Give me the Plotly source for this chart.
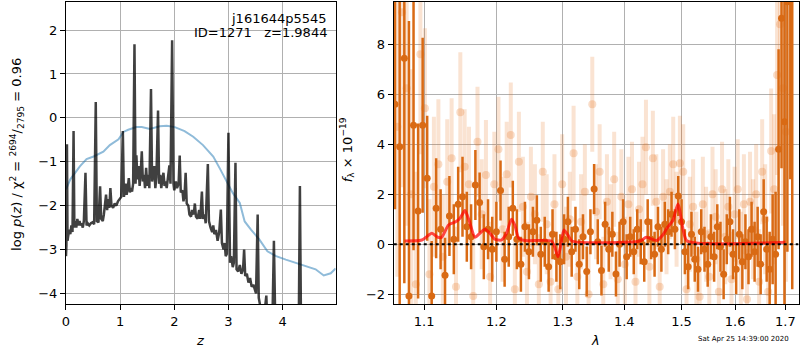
import plotly.graph_objects as go

# ---------------- redshift probability panel ----------------
pz_z = [0.000, 0.008, 0.018, 0.028, 0.04, 0.06, 0.08, 0.10, 0.12, 0.14, 0.155, 0.17, 0.19, 0.21,
        0.23, 0.25, 0.27, 0.29, 0.31, 0.33, 0.36, 0.38, 0.40, 0.43, 0.46, 0.49, 0.52, 0.55, 0.57,
        0.60, 0.63, 0.65, 0.68, 0.70, 0.72, 0.74, 0.76, 0.78, 0.80, 0.82, 0.84, 0.87, 0.90, 0.93,
        0.96, 0.99, 1.02, 1.05, 1.07, 1.10, 1.12, 1.14, 1.16, 1.18, 1.20, 1.22, 1.24, 1.265, 1.285,
        1.30, 1.32, 1.34, 1.36, 1.38, 1.40, 1.42, 1.44, 1.46, 1.48, 1.50, 1.52, 1.54, 1.57, 1.59,
        1.61, 1.63, 1.65, 1.67, 1.70, 1.72, 1.74, 1.76, 1.78, 1.80, 1.82, 1.84, 1.86, 1.88, 1.91,
        1.93, 1.96, 1.985, 2.00, 2.03, 2.05, 2.08, 2.10, 2.12, 2.15, 2.17, 2.19, 2.21, 2.23, 2.26,
        2.28, 2.31, 2.33, 2.36, 2.38, 2.40, 2.43, 2.46, 2.48, 2.51, 2.53, 2.56, 2.58, 2.62, 2.64,
        2.67, 2.70, 2.72, 2.74, 2.77, 2.80, 2.83, 2.86, 2.88, 2.91, 2.93, 2.95, 2.97, 3.00, 3.03,
        3.05, 3.08, 3.10, 3.13, 3.15, 3.18, 3.21, 3.24, 3.27, 3.29, 3.31, 3.34, 3.37, 3.40, 3.43,
        3.46, 3.49, 3.51, 3.54, 3.56, 3.59, 3.63, 3.67, 3.70, 3.72, 3.77, 3.81, 3.84, 3.87, 3.92,
        4.00, 4.10, 4.20, 4.29, 4.32, 4.35, 4.50, 4.70, 4.98]
pz_logp = [-3.15, -2.90, -0.60, -2.80, -2.70, -2.55, -2.65, -2.45, -2.60, -0.30, -2.50, -2.35, -2.50, -2.30,
           -2.45, -2.35, -2.45, -2.40, -2.50, -2.35, -1.25, -2.45, -2.40, -2.45, -2.40, -2.38, -2.42, 0.36, -2.35,
           -2.38, -1.56, -2.30, -2.35, -2.20, -2.00, -1.75, -2.10, -1.85, -2.05, -1.60, -2.00, -2.05, -1.95, -2.00,
           -1.90, -1.85, -1.80, -0.30, -1.80, -1.50, -1.75, -1.60, -1.37, -1.70, -1.60, -1.68, -1.50, 1.68, -1.50,
           -0.85, -1.40, -1.10, -1.55, -1.25, -0.76, -1.45, -1.30, -1.60, -1.14, -1.55, -1.30, -1.60, 0.66, -1.45,
           -1.30, -1.10, -1.60, -1.35, 0.17, -1.50, -1.30, -1.60, -1.40, -1.25, -1.55, -1.45, -1.60, -1.40, -1.08,
           -1.50, 1.77, -1.50, -1.65, -1.45, -1.60, -1.50, -0.86, -1.70, -1.65, -1.90, -1.75, -1.25, -1.95, -2.00,
           -2.20, -2.25, -2.10, -2.20, -1.95, -2.25, -2.30, -2.10, -2.30, -1.68, -2.30, -2.20, -2.40, -1.05, -2.35,
           -2.50, -2.60, -2.45, -2.65, -2.55, -2.80, -2.60, -2.09, -2.85, -3.00, -2.85, -3.15, -3.10, -0.34, -3.30,
           -3.15, -3.40, -3.30, -1.02, -3.45, -3.50, -3.35, -3.55, -3.45, -3.00, -3.60, -3.55, -3.75, -3.65, -3.85,
           -3.80, -3.95, -4.00, -2.20, -4.10, -4.30, -4.60, -4.40, -4.05, -4.70, -4.90, -4.80, -2.80, -5.00, -5.30,
           -5.50, -5.80, -6.00, -6.10, -1.55, -6.20, -6.50, -6.90, -7.30]

prior_z = [0.00, 0.08, 0.26, 0.38, 0.51, 0.69, 0.81, 0.97, 1.06, 1.15, 1.30, 1.40, 1.55, 1.73, 1.86,
           2.01, 2.19, 2.35, 2.53, 2.72, 2.84, 2.97, 3.08, 3.21, 3.30, 3.42, 3.57, 3.72, 3.88, 4.06,
           4.24, 4.43, 4.61, 4.76, 4.89, 4.98]
prior_logp = [-1.63, -1.40, -1.10, -0.94, -0.88, -0.77, -0.62, -0.49, -0.32, -0.27, -0.21, -0.21, -0.25,
              -0.19, -0.18, -0.21, -0.30, -0.43, -0.62, -0.88, -1.15, -1.45, -1.71, -1.94, -2.36, -2.55,
              -2.77, -3.04, -3.15, -3.23, -3.30, -3.38, -3.45, -3.59, -3.54, -3.43]

z_ticks = [0, 1, 2, 3, 4]
logp_ticks = [-4, -3, -2, -1, 0, 1, 2]

# ---------------- spectrum panel ----------------
wave_a = [1.062, 1.068, 1.074, 1.080, 1.086, 1.092, 1.098, 1.104, 1.110, 1.116, 1.122, 1.128, 1.134,
          1.140, 1.146, 1.152, 1.158, 1.164, 1.170, 1.176, 1.182, 1.188, 1.194, 1.200, 1.206, 1.212,
          1.218, 1.224, 1.230, 1.236, 1.242, 1.248, 1.254, 1.260, 1.266, 1.272, 1.278, 1.284, 1.290,
          1.296, 1.302, 1.308, 1.314, 1.320, 1.326, 1.332, 1.338, 1.344, 1.350, 1.356, 1.362, 1.368,
          1.374, 1.380, 1.386, 1.392, 1.398, 1.404, 1.410, 1.416, 1.422, 1.428, 1.434, 1.440, 1.446,
          1.452, 1.458, 1.464, 1.470, 1.476, 1.482, 1.488, 1.494, 1.500, 1.506, 1.512, 1.518, 1.524,
          1.530, 1.536, 1.542, 1.548, 1.554, 1.560, 1.566, 1.572, 1.578, 1.584, 1.590, 1.596, 1.602,
          1.608, 1.614, 1.620, 1.626, 1.632, 1.638, 1.644, 1.650, 1.656, 1.662, 1.668, 1.674, 1.680,
          1.686, 1.692, 1.698, 1.704, 1.710, 1.714]
flux_a = [5.6, 3.9, 7.44, -2.07, 4.76, 1.33, 4.76, 2.64, -2.07, 1.44, 0.6, -1.24, 1.13,
          0.2, 1.6, 1.9, 0.7, 0.3, 2.37, 1.67, -0.1, 0.6, -0.2, 0.5, 2.15, -0.6,
          0.3, 1.44, 0.2, -0.8, 0.7, -0.3, 0.5, 0.96, -0.4, 0.1, -0.9, 0.4, -0.5,
          -0.7, 0.2, 0.9, -0.3, 0.6, -0.8, 0.3, -1.09, 0.5, 2.21, 0.1, -1.05, 0.8,
          -0.2, 0.4, -1.19, 0.0, 0.9, -0.5, 0.3, -0.3, 0.6, 0.1, -0.7, 0.9, 0.2,
          -0.4, 0.7, -0.2, 0.8, 0.5, 1.2, 0.6, 1.93, 0.9, -0.3, -0.9, 0.4, -0.6,
          -1.0, 0.5, -0.2, -0.8, 0.3, -0.5, 0.7, -0.1, -1.2, 0.2, 0.9, -0.4, -1.0,
          0.4, -0.7, 0.1, -0.5, 0.6, -0.3, 0.3, -0.8, 1.3, -0.2, -1.0, 0.2, -0.4,
          3.8, 9.04, 4.9, 9.7, 15.0, 18.0]
err_a = [4.2, 7.5, 9.0, 11.0, 5.0, 3.5, 3.5, 2.5, 2.2, 2.0, 1.6, 1.5, 1.6,
         1.4, 1.5, 1.6, 1.4, 1.3, 1.4, 1.2, 1.3, 1.2, 1.3, 1.2, 1.2, 1.1,
         1.2, 1.1, 1.2, 1.1, 1.0, 1.1, 1.0, 1.0, 1.1, 1.0, 1.0, 1.0, 1.0,
         1.1, 1.0, 1.0, 1.0, 0.9, 1.0, 0.9, 1.0, 0.9, 1.0, 0.9, 1.0, 0.9,
         0.9, 0.9, 0.9, 0.9, 0.9, 0.9, 0.8, 0.9, 0.8, 0.9, 0.8, 0.9, 0.8,
         0.9, 0.8, 0.9, 0.9, 0.9, 0.9, 0.8, 0.8, 0.9, 0.9, 0.9, 0.9, 0.9,
         0.9, 0.9, 0.9, 0.9, 0.9, 1.0, 0.9, 1.0, 1.0, 1.0, 1.0, 1.0, 1.0,
         1.0, 1.1, 1.1, 1.1, 1.1, 1.2, 1.2, 1.2, 1.3, 1.3, 1.5, 1.8, 2.5,
         4.0, 6.0, 8.0, 10.0, 12.4, 19.8]

wave_b = [1.065, 1.071, 1.077, 1.083, 1.089, 1.095, 1.101, 1.107, 1.113, 1.119, 1.125, 1.131, 1.137,
          1.143, 1.149, 1.155, 1.161, 1.167, 1.173, 1.179, 1.185, 1.191, 1.197, 1.203, 1.209, 1.215,
          1.221, 1.227, 1.233, 1.239, 1.245, 1.251, 1.257, 1.263, 1.269, 1.275, 1.281, 1.287, 1.293,
          1.299, 1.305, 1.311, 1.317, 1.323, 1.329, 1.335, 1.341, 1.347, 1.353, 1.359, 1.365, 1.371,
          1.377, 1.383, 1.389, 1.395, 1.401, 1.407, 1.413, 1.419, 1.425, 1.431, 1.437, 1.443, 1.449,
          1.455, 1.461, 1.467, 1.473, 1.479, 1.485, 1.491, 1.497, 1.503, 1.509, 1.515, 1.521, 1.527,
          1.533, 1.539, 1.545, 1.551, 1.557, 1.563, 1.569, 1.575, 1.581, 1.587, 1.593, 1.599, 1.605,
          1.611, 1.617, 1.623, 1.629, 1.635, 1.641, 1.647, 1.653, 1.659, 1.665, 1.671, 1.677, 1.683,
          1.689, 1.695, 1.701]
flux_b = [4.7, 9.28, 6.24, 2.0, -1.6, 7.6, 5.44, -1.2, 2.3, 3.2, -0.5, 2.5, 3.44,
          -1.7, 5.28, 3.1, 2.4, -2.07, 4.1, 1.2, 2.77, -1.3, 2.4, 3.8, 0.6, 2.8,
          4.37, -1.8, 3.3, 1.5, -1.1, 1.9, 1.2, -1.6, 2.9, 0.8, -1.5, 1.6, -1.8,
          2.4, -0.5, 1.0, 3.64, -1.3, 0.9, 2.1, -2.0, 5.6, 1.3, 2.9, -1.6, 1.7,
          0.5, 2.6, -1.4, 1.9, -0.8, 1.6, 2.2, -1.5, 1.4, 2.4, 3.88, -0.9, 3.44,
          1.7, -1.7, 1.9, 0.7, 2.1, 3.2, 1.0, 3.24, 2.9, -1.8, 0.8, 1.5, -0.6,
          -2.1, 1.6, 0.4, -1.3, 2.0, 1.1, -1.9, 2.2, 0.3, 1.5, -1.4, 1.2, 2.2,
          -0.7, 1.6, -2.2, 1.7, 0.6, 2.0, -1.5, 2.9, 1.0, -1.9, 3.73, 2.2, 6.77,
          8.8, 6.24, 4.5]
err_b = [6.0, 7.0, 5.5, 5.0, 4.5, 4.0, 3.2, 3.0, 2.8, 2.6, 2.5, 2.5, 2.4,
         2.4, 2.4, 2.3, 2.3, 2.3, 2.2, 2.2, 2.2, 2.2, 2.1, 2.1, 2.1, 2.1,
         2.1, 2.0, 2.0, 2.0, 2.0, 2.0, 2.0, 2.0, 2.0, 2.0, 2.0, 2.0, 2.0,
         2.0, 2.0, 1.9, 1.9, 1.9, 1.9, 1.9, 1.9, 1.9, 1.9, 1.9, 1.9, 1.9,
         1.9, 1.9, 1.9, 1.9, 1.9, 1.9, 1.9, 1.9, 1.9, 1.9, 1.9, 1.9, 1.9,
         1.9, 1.9, 1.9, 1.9, 1.9, 1.9, 1.9, 1.9, 1.9, 1.9, 1.9, 1.9, 1.9,
         1.9, 1.9, 1.9, 1.9, 1.9, 1.9, 1.9, 1.9, 1.9, 1.9, 1.9, 1.9, 2.0,
         2.0, 2.0, 2.0, 2.0, 2.0, 2.0, 2.1, 2.1, 2.2, 2.3, 2.5, 3.0, 4.0,
         5.0, 5.5, 6.0]

model_wave = [1.0744, 1.0970, 1.1102, 1.1182, 1.1236, 1.1327, 1.1426, 1.1485, 1.1554, 1.1610,
              1.1694, 1.1764, 1.1835, 1.1906, 1.1978, 1.2074, 1.2147, 1.2220, 1.2269, 1.2327,
              1.2416, 1.2821, 1.2872, 1.2924, 1.2964, 1.3017, 1.3080, 1.3143, 1.4270, 1.4376,
              1.4556, 1.4664, 1.4737, 1.4847, 1.4935, 1.5030, 1.5100, 1.7000]
model_flux = [0.13, 0.17, 0.44, 0.28, 0.28, 0.77, 0.90, 1.04, 1.35, 0.97,
              0.28, 0.44, 0.60, 0.44, 0.20, 0.17, 0.44, 1.00, 0.77, 0.24,
              0.15, 0.13, -0.10, -0.50, -0.10, 0.57, 0.37, 0.13, 0.13, 0.28,
              0.15, 0.37, 0.64, 0.97, 1.61, 0.57, 0.13, 0.08]

wave_ticks = [1.1, 1.2, 1.3, 1.4, 1.5, 1.6, 1.7]
flux_ticks = [-2, 0, 2, 4, 6, 8]

FONT = "DejaVu Sans"
GRID = "#b0b0b0"
DARK = "#d96a14"

fig = go.Figure()

# p(z) curves
fig.add_trace(go.Scatter(x=prior_z, y=prior_logp, mode="lines",
                         line=dict(color="rgba(31,119,180,0.5)", width=2),
                         xaxis="x", yaxis="y", hoverinfo="skip"))
fig.add_trace(go.Scatter(x=pz_z, y=pz_logp, mode="lines",
                         line=dict(color="rgba(0,0,0,0.75)", width=2.5),
                         xaxis="x", yaxis="y", hoverinfo="skip"))

# spectrum: faint beam, bright beam, model, zero line
fig.add_trace(go.Scatter(x=wave_b, y=flux_b, mode="markers",
                         marker=dict(color="rgba(230,115,30,0.25)", size=8),
                         error_y=dict(type="data", array=err_b, color="rgba(230,115,30,0.2)",
                                      thickness=4, width=0),
                         xaxis="x2", yaxis="y2", hoverinfo="skip"))
fig.add_trace(go.Scatter(x=wave_a, y=flux_a, mode="markers",
                         marker=dict(color=DARK, size=7),
                         error_y=dict(type="data", array=err_a, color=DARK, thickness=2.5, width=0),
                         xaxis="x2", yaxis="y2", hoverinfo="skip"))
fig.add_trace(go.Scatter(x=model_wave, y=model_flux, mode="lines",
                         line=dict(color="rgba(255,0,0,0.7)", width=3, shape="spline", smoothing=0.6),
                         xaxis="x2", yaxis="y2", hoverinfo="skip"))
fig.add_trace(go.Scatter(x=[1.0604, 1.727], y=[0, 0], mode="lines",
                         line=dict(color="black", width=2, dash="dot"),
                         xaxis="x2", yaxis="y2", hoverinfo="skip"))

W, H = 800, 350
axis_common = dict(showline=True, linecolor="black", linewidth=1, mirror=True,
                   ticks="outside", ticklen=5, tickcolor="black", tickwidth=1,
                   showgrid=True, gridcolor=GRID, gridwidth=1, zeroline=False,
                   tickfont=dict(family=FONT, size=13, color="black"))

fig.update_layout(
    width=W, height=H,
    margin=dict(l=0, r=0, t=0, b=0),
    paper_bgcolor="white", plot_bgcolor="white",
    showlegend=False,
    xaxis=dict(domain=[62.3 / W, 333.3 / W], range=[0, 4.98], tickvals=z_ticks,
               anchor="y", **axis_common),
    yaxis=dict(domain=[1 - 304 / H, 1 - 2 / H], range=[-4.24, 2.64], tickvals=logp_ticks,
               anchor="x", **axis_common),
    xaxis2=dict(domain=[391.7 / W, 798.5 / W], type="log", range=[0.02547, 0.23729],
                tickvals=wave_ticks, ticktext=[f"{t:.1f}" for t in wave_ticks],
                anchor="y2", **axis_common),
    yaxis2=dict(domain=[1 - 304 / H, 1 - 2 / H], range=[-2.39, 9.69], tickvals=flux_ticks,
                anchor="x2", **axis_common),
)

ann_font = dict(family=FONT, size=13, color="black")
fig.add_annotation(x=326.7 / W, y=1 - 18.5 / H, xref="paper", yref="paper",
                   text="j161644p5545", showarrow=False, xanchor="right", yanchor="middle",
                   font=ann_font)
fig.add_annotation(x=326.7 / W, y=1 - 32.5 / H, xref="paper", yref="paper",
                   text="ID=1271   z=1.9844", showarrow=False, xanchor="right", yanchor="middle",
                   font=ann_font)

# axis titles
fig.add_annotation(x=197 / W, y=1 - 340 / H, xref="paper", yref="paper", text="<i>z</i>",
                   showarrow=False, xanchor="center", yanchor="middle", font=ann_font)
fig.add_annotation(x=594 / W, y=1 - 340 / H, xref="paper", yref="paper", text="<i>λ</i>",
                   showarrow=False, xanchor="center", yanchor="middle", font=ann_font)
fig.add_annotation(x=13 / W, y=1 - 154 / H, xref="paper", yref="paper",
                   text="log <i>p</i>(<i>z</i>) / χ<sup>2</sup> = <sup>2694</sup>/<sub>2795</sub> = 0.96",
                   showarrow=False, textangle=-90, xanchor="center", yanchor="middle",
                   font=ann_font)
fig.add_annotation(x=345 / W, y=1 - 150 / H, xref="paper", yref="paper",
                   text="<i>f</i><sub>λ</sub> × 10<sup>−19</sup>",
                   showarrow=False, textangle=-90, xanchor="center", yanchor="middle",
                   font=ann_font)
fig.add_annotation(x=743 / W, y=1 - 339 / H, xref="paper", yref="paper",
                   text="Sat Apr 25 14:39:00 2020", showarrow=False,
                   xanchor="center", yanchor="middle",
                   font=dict(family=FONT, size=7, color="black"))

fig.write_html("out.html")
